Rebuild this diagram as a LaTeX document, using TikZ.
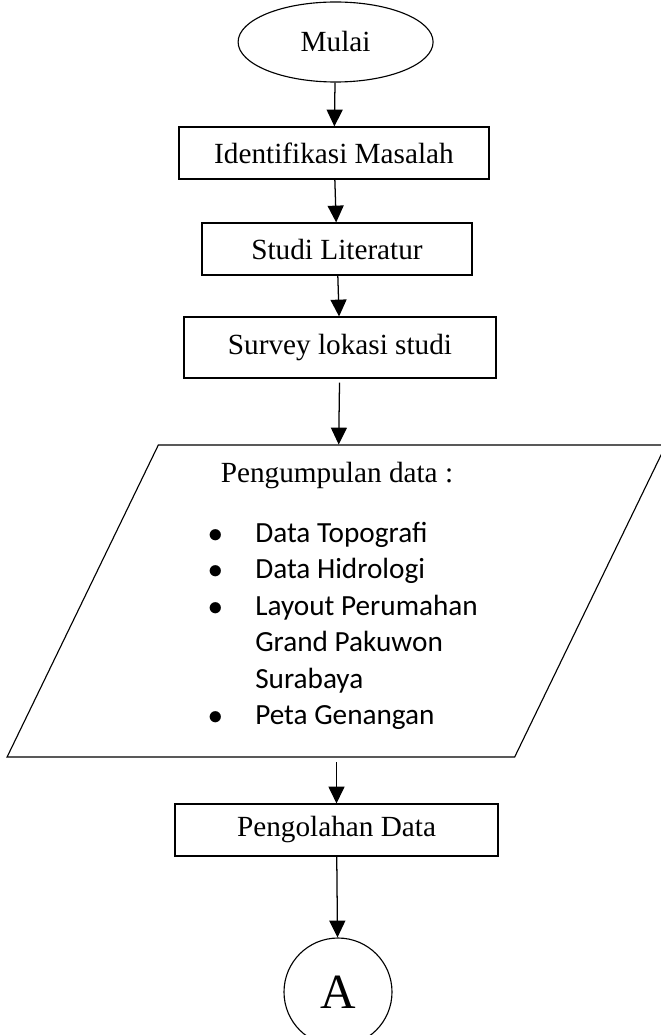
\documentclass[tikz,border=0pt]{standalone}
\usepackage{fontspec}
\setmainfont{Liberation Serif}
\newfontfamily\calibri{Carlito}
\usetikzlibrary{shapes.geometric,arrows.meta}

\begin{document}
\begin{tikzpicture}[
	font=\fontsize{20.8}{25}\selectfont,
	proses/.style={draw, line width=0.8pt, minimum height=1.3cm, inner sep=0pt},
	panah/.style={-{Triangle[length=0.42cm,width=0.4cm]}, line width=0.9pt}
	]
	\useasboundingbox (0,0) rectangle (16.5,-25.875);

	\node[draw, ellipse, line width=0.8pt, minimum width=4.875cm, minimum height=2cm, inner sep=0pt] (mulai) at (8.39,-1.05) {Mulai};

	\node[proses, minimum width=7.75cm] (identifikasi) at (8.35,-3.825) {Identifikasi Masalah};

	\node[proses, minimum width=6.75cm] (studi) at (8.425,-6.225) {Studi Literatur};

	\node[proses, minimum width=7.8cm, minimum height=1.525cm] (survey) at (8.5,-8.6875) {Survey lokasi studi};

	\node[draw, trapezium, trapezium left angle=67, trapezium right angle=113, trapezium stretches=true, minimum width=16.475cm, minimum height=7.8cm, line width=0.8pt] (data) at (8.4125,-15.025) {};
	\node[anchor=base] (judul) at (8.425,-12.05) {Pengumpulan data :};
	\node[anchor=base west, inner sep=0pt, font=\calibri\fontsize{20.8}{26}\selectfont] (daftar) at (5.2,-13.55) {%
		\begin{tabular}[t]{@{}p{1.175cm}@{}l@{}}
			$\bullet$ & Data Topografi\\
			$\bullet$ & Data Hidrologi\\
			$\bullet$ & Layout Perumahan\\
			& Grand Pakuwon\\
			& Surabaya\\
			$\bullet$ & Peta Genangan
		\end{tabular}};

	\node[proses, minimum width=8.075cm] (olah) at (8.4125,-20.75) {Pengolahan Data};

	\node[draw, circle, minimum size=2.7cm, line width=0.8pt, font=\fontsize{35}{40}\selectfont] (akhir) at (8.45,-24.8) {A};

	\draw[panah] (mulai) -- (identifikasi);
	\draw[panah] (identifikasi) -- (studi);
	\draw[panah] (studi) -- (survey);
	\draw[panah, shorten <=0.1cm] (survey) -- (data);
	\draw[panah, shorten <=0.12cm] (data) -- (olah);
	\draw[panah] (olah) -- (akhir);

\end{tikzpicture}
\end{document}
